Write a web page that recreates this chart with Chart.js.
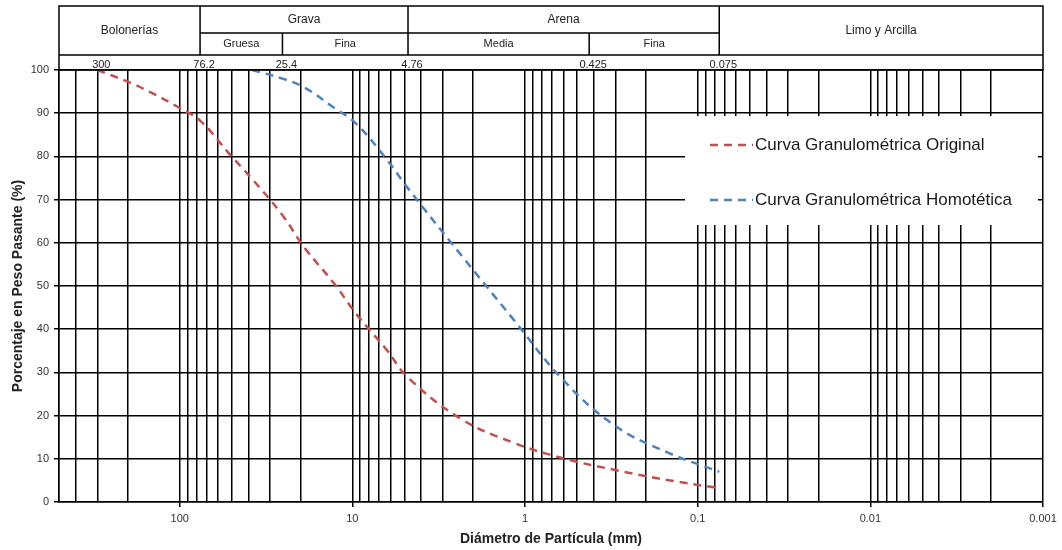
<!DOCTYPE html>
<html>
<head>
<meta charset="utf-8">
<script src="https://cdn.jsdelivr.net/npm/chart.js@4.4.1/dist/chart.umd.min.js"></script>
<style>
  html, body { margin: 0; padding: 0; background: #ffffff; }
  #wrap { width: 1062px; height: 550px; }
</style>
</head>
<body>
<div id="wrap"><canvas id="granulometria" width="1062" height="550"></canvas></div>
<script>
// Curvas granulométricas: diámetro de partícula (mm) y porcentaje en peso que pasa
const seriesNames = ['Curva Granulométrica Original', 'Curva Granulométrica Homotética'];
const seriesColors = ['#C0504D', '#4F81BD'];

const originalDiameters = [300, 200, 150, 100, 76.2, 50.8, 38.1, 25.4, 19.05, 12.7, 9.525, 6.35, 4.76, 2.36, 1.18, 0.6, 0.3, 0.15, 0.075];
const originalPassing   = [100, 97.3, 95.0, 91.2, 88.3, 80.3, 74.8, 66.4, 59.0, 50.5, 43.6, 35.3, 28.8, 19.3, 13.8, 10.1, 7.4, 5.1, 3.2];

const homotheticDiameters = [38.1, 25.4, 19.05, 12.7, 9.525, 6.35, 4.76, 2.36, 1.18, 0.6, 0.3, 0.15, 0.075];
const homotheticPassing   = [100, 98.0, 96.0, 91.2, 87.6, 79.4, 72.6, 57.3, 42.5, 28.2, 17.6, 11.5, 7.0];

// Ejes
const decadeTicks = [100, 10, 1, 0.1, 0.01, 0.001];
const decadeTickLabels = ['100', '10', '1', '0.1', '0.01', '0.001'];
const diameterMin = 0.001;
const diameterMax = 500;

// Cabecera de clasificación por tamaños
const sizeLimits = [300, 76.2, 25.4, 4.76, 0.425, 0.075];
const sizeLimitLabels = ['300', '76.2', '25.4', '4.76', '0.425', '0.075'];
const soilGroups = ['Bolonerías', 'Grava', 'Arena', 'Limo y Arcilla'];
const soilSubgroups = ['Gruesa', 'Fina', 'Media', 'Fina'];

// Líneas de división logarítmica (1..9 por década)
const gridValues = [];
[0.001, 0.01, 0.1, 1, 10, 100].forEach(d => {
  for (let m = 1; m <= 9; m++) {
    const v = parseFloat((m * d).toPrecision(6));
    if (v <= diameterMax) gridValues.push(v);
  }
});

const toPoints = (xs, ys) => xs.map((x, i) => ({ x: x, y: ys[i] }));

const FONT = '"Liberation Sans", Arial, sans-serif';

const headerPlugin = {
  id: 'soilHeader',
  afterDraw(chart) {
    const { ctx, chartArea } = chart;
    const xs = chart.scales.x;
    const L = chartArea.left, R = chartArea.right, T = chartArea.top;
    const yTop = 6, yMid = 33, yBot = 55;
    const px = sizeLimits.map(v => xs.getPixelForValue(v));
    ctx.save();
    ctx.strokeStyle = '#000';
    ctx.lineWidth = 1.5;
    ctx.beginPath();
    ctx.rect(L, yTop, R - L, T - yTop);
    ctx.moveTo(L, yBot); ctx.lineTo(R, yBot);
    ctx.moveTo(px[1], yMid); ctx.lineTo(px[5], yMid);
    [1, 3, 5].forEach(i => { ctx.moveTo(px[i], yTop); ctx.lineTo(px[i], yBot); });
    [2, 4].forEach(i => { ctx.moveTo(px[i], yMid); ctx.lineTo(px[i], yBot); });
    ctx.stroke();

    ctx.fillStyle = '#222';
    ctx.textAlign = 'center';
    ctx.textBaseline = 'middle';
    ctx.font = '12px ' + FONT;
    ctx.fillText(soilGroups[0], (L + px[1]) / 2, (yTop + yBot) / 2);
    ctx.fillText(soilGroups[1], (px[1] + px[3]) / 2, (yTop + yMid) / 2);
    ctx.fillText(soilGroups[2], (px[3] + px[5]) / 2, (yTop + yMid) / 2);
    ctx.fillText(soilGroups[3], (px[5] + R) / 2, (yTop + yBot) / 2);
    ctx.font = '11px ' + FONT;
    ctx.fillText(soilSubgroups[0], (px[1] + px[2]) / 2, (yMid + yBot) / 2);
    ctx.fillText(soilSubgroups[1], (px[2] + px[3]) / 2, (yMid + yBot) / 2);
    ctx.fillText(soilSubgroups[2], (px[3] + px[4]) / 2, (yMid + yBot) / 2);
    ctx.fillText(soilSubgroups[3], (px[4] + px[5]) / 2, (yMid + yBot) / 2);

    ctx.textBaseline = 'alphabetic';
    ctx.font = '11px ' + FONT;
    sizeLimitLabels.forEach((t, i) => ctx.fillText(t, px[i] + 4, T - 2));
    ctx.restore();
  }
};

const legendBoxPlugin = {
  id: 'legendBox',
  afterDatasetsDraw(chart) {
    const { ctx, chartArea } = chart;
    const bx = chartArea.right - 358, by = chartArea.top + 46, bw = 353, bh = 109;
    ctx.save();
    ctx.fillStyle = '#ffffff';
    ctx.fillRect(bx, by, bw, bh);
    const rows = [by + 29, by + 84];
    chart.data.datasets.forEach((ds, i) => {
      const y = rows[i];
      ctx.strokeStyle = ds.borderColor;
      ctx.lineWidth = 2.5;
      ctx.setLineDash([8, 6]);
      ctx.beginPath();
      ctx.moveTo(bx + 25, y);
      ctx.lineTo(bx + 68, y);
      ctx.stroke();
      ctx.setLineDash([]);
      ctx.fillStyle = '#1a1a1a';
      ctx.font = '17px ' + FONT;
      ctx.textAlign = 'left';
      ctx.textBaseline = 'middle';
      ctx.fillText(ds.label, bx + 70, y);
    });
    ctx.restore();
  }
};

new Chart(document.getElementById('granulometria'), {
  type: 'line',
  data: {
    datasets: [
      {
        label: seriesNames[0],
        data: toPoints(originalDiameters, originalPassing),
        borderColor: seriesColors[0],
        borderWidth: 2.5,
        borderDash: [8, 6],
        pointRadius: 0,
        fill: false,
        tension: 0.4
      },
      {
        label: seriesNames[1],
        data: toPoints(homotheticDiameters, homotheticPassing),
        borderColor: seriesColors[1],
        borderWidth: 2.5,
        borderDash: [8, 6],
        pointRadius: 0,
        fill: false,
        tension: 0.4
      }
    ]
  },
  options: {
    responsive: false,
    animation: false,
    layout: { padding: { top: 70, right: 19, left: 0, bottom: 0 } },
    plugins: {
      legend: { display: false },
      tooltip: { enabled: false }
    },
    scales: {
      x: {
        type: 'logarithmic',
        reverse: true,
        min: diameterMin,
        max: diameterMax,
        afterBuildTicks(scale) {
          scale.ticks = gridValues.map(v => ({ value: v }));
        },
        afterFit(scale) { scale.height = 48; },
        ticks: {
          autoSkip: false,
          maxRotation: 0,
          minRotation: 0,
          padding: 5,
          color: '#333',
          font: { family: FONT, size: 11 },
          callback(value) {
            const k = decadeTicks.indexOf(value);
            return k >= 0 ? decadeTickLabels[k] : '';
          }
        },
        grid: {
          color: '#000',
          lineWidth: 1.5,
          tickLength: 5,
          tickColor: ctx => (ctx.tick && decadeTicks.includes(ctx.tick.value)) ? '#000' : 'rgba(0,0,0,0)'
        },
        border: { display: true, color: '#000', width: 1.5 },
        title: {
          display: true,
          text: 'Diámetro de Partícula (mm)',
          color: '#222',
          font: { family: FONT, size: 14, weight: 'bold' },
          padding: { top: 0, bottom: 2 }
        }
      },
      y: {
        min: 0,
        max: 100,
        afterFit(scale) { scale.width = 59; },
        ticks: {
          stepSize: 10,
          padding: 5,
          color: '#333',
          font: { family: FONT, size: 11 }
        },
        grid: {
          color: '#000',
          lineWidth: 1.5,
          tickLength: 5,
          tickColor: '#000'
        },
        border: { display: true, color: '#000', width: 1.5 },
        title: {
          display: true,
          text: 'Porcentaje en Peso Pasante (%)',
          color: '#222',
          font: { family: FONT, size: 14, weight: 'bold' },
          padding: { top: 10, bottom: 0 }
        }
      }
    }
  },
  plugins: [headerPlugin, legendBoxPlugin]
});
</script>
</body>
</html>
